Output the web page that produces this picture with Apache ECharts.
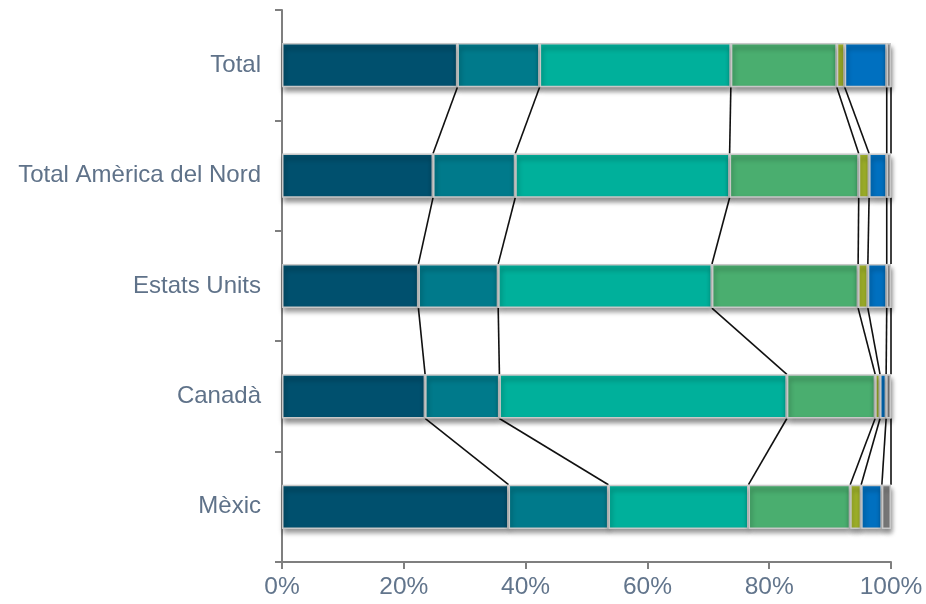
<!DOCTYPE html>
<html>
<head>
<meta charset="utf-8">
<script src="https://cdn.jsdelivr.net/npm/echarts@6/dist/echarts.min.js"></script>
<style>html,body{margin:0;padding:0;background:#fff}#c{width:926px;height:604px}</style>
</head>
<body>
<div id="c"></div>
<script>
var categories = ['Total', 'Total Amèrica del Nord', 'Estats Units', 'Canadà', 'Mèxic'];
var s1 = [28.8, 24.8, 22.4, 23.5, 37.2];
var s2 = [13.5, 13.5, 13.1, 12.2, 16.4];
var s3 = [31.4, 35.2, 35.1, 47.2, 23.0];
var s4 = [17.4, 21.2, 24.0, 14.5, 16.7];
var s5 = [1.3, 1.7, 1.6, 0.8, 1.8];
var s6 = [6.9, 2.9, 3.1, 1.0, 3.4];
var s7 = [0.7, 0.7, 0.7, 0.8, 1.5];
var xTicks = [0, 20, 40, 60, 80, 100];
var colors = ['#00506e', '#007a8b', '#00b09b', '#4aae6f', '#a2b52b', '#0070c0', '#808080'];

var allSeries = [s1, s2, s3, s4, s5, s6, s7];
var font = 'Liberation Sans, Arial, sans-serif';

// cumulative ends for series lines
var cum = categories.map(function (c, i) {
  var acc = 0;
  return allSeries.map(function (s) { acc += s[i]; return acc; });
});
var lineData = [];
for (var i = 0; i < categories.length - 1; i++) {
  for (var k = 0; k < allSeries.length; k++) {
    lineData.push([cum[i][k], i, cum[i + 1][k]]);
  }
}

var barSeries = allSeries.map(function (s, k) {
  return {
    type: 'bar',
    stack: 'all',
    data: s,
    barWidth: '40%',
    itemStyle: {
      color: colors[k],
      borderColor: '#c8c8c8',
      borderWidth: 1.5,
      shadowColor: 'rgba(0,0,0,0.45)',
      shadowBlur: 5,
      shadowOffsetY: 4,
      shadowOffsetX: 1
    },
    z: 3,
    silent: true
  };
});

var chart = echarts.init(document.getElementById('c'));
chart.setOption({
  animation: false,
  grid: { left: 282, right: 35, top: 10, bottom: 42 },
  xAxis: {
    type: 'value',
    min: xTicks[0],
    max: xTicks[xTicks.length - 1],
    interval: 20,
    axisLine: { show: true, lineStyle: { color: '#7f7f7f', width: 2 } },
    axisTick: { show: true, length: 7, lineStyle: { color: '#7f7f7f', width: 2 } },
    splitLine: { show: false },
    axisLabel: { formatter: '{value}%', fontSize: 24.5, color: '#62758c', fontFamily: font, margin: 13 }
  },
  yAxis: {
    type: 'category',
    inverse: true,
    data: categories,
    axisLine: { show: true, lineStyle: { color: '#7f7f7f', width: 2 } },
    axisTick: { show: true, length: 7, lineStyle: { color: '#7f7f7f', width: 2 } },
    axisLabel: { fontSize: 24, color: '#5f7289', fontFamily: font, margin: 21 }
  },
  series: barSeries.concat([{
    type: 'custom',
    data: lineData,
    encode: { x: [0, 2], y: 1 },
    z: 2,
    silent: true,
    renderItem: function (params, api) {
      var ci = api.value(1);
      var p1 = api.coord([api.value(0), ci]);
      var p2 = api.coord([api.value(2), ci + 1]);
      var band = api.size([0, 1])[1];
      var half = band * 0.2;
      return {
        type: 'line',
        shape: { x1: p1[0], y1: p1[1] + half, x2: p2[0], y2: p2[1] - half },
        style: { stroke: '#111', lineWidth: 1.6 }
      };
    }
  }])
});
</script>
</body>
</html>
